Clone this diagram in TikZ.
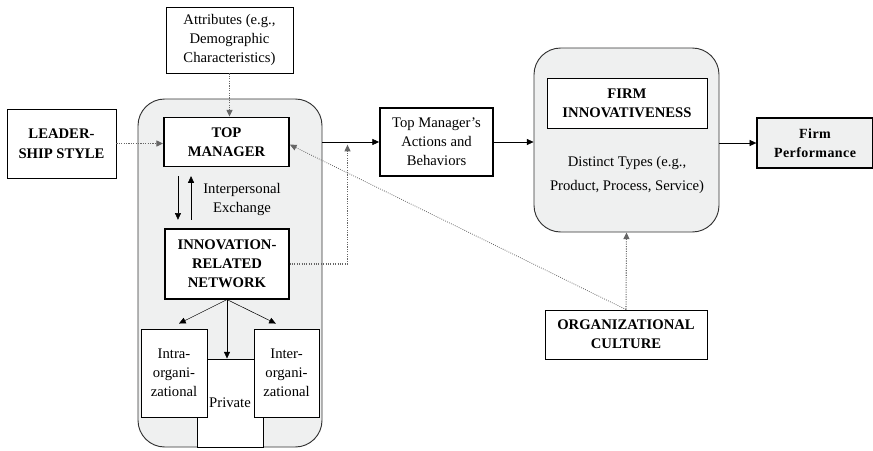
\documentclass[tikz,border=0pt]{standalone}
\usepackage{fontspec}
\setmainfont{Liberation Serif}
\usetikzlibrary{arrows.meta}
\definecolor{panel}{RGB}{239,240,240}
\tikzset{box/.style={draw,fill=white,align=center,inner sep=0pt,line width=0.7pt},
bbox/.style={box,line width=1.4pt},
grp/.style={draw=black!80,fill=panel,rounded corners=20pt,line width=0.7pt},
arr/.style={-{Triangle[length=5pt,width=4.5pt]}},
dots/.style={densely dotted,draw=black!60,line width=0.8pt}}

\begin{document}
\begin{tikzpicture}[x=0.75pt,y=-0.75pt,font=\fontsize{11}{14.25}\selectfont]
\useasboundingbox (0,0) rectangle (873,450);
\node[grp,minimum width=138pt,minimum height=261pt](g1) at (230,273){};
\node[grp,minimum width=138.75pt,minimum height=138pt](g2) at (626.5,140){};
\node[box,minimum width=95.25pt,minimum height=49.5pt](att) at (229.5,40){Attributes (e.g.,\\Demographic\\Characteristics)};
\node[box,font=\fontsize{11}{15}\selectfont\bfseries,minimum width=81.75pt,minimum height=51.75pt](lead) at (61.5,143.5){LEADER-\\SHIP STYLE};
\node[bbox,font=\fontsize{11}{14.25}\selectfont\bfseries,minimum width=93.75pt,minimum height=36.75pt](top) at (226.5,142){TOP\\MANAGER};
\node[align=center](ie) at (242,199){Interpersonal\\Exchange};
\node[box,line width=0.85pt,font=\fontsize{11}{14.25}\selectfont\bfseries,minimum width=93pt,minimum height=52.5pt](net) at (227,264){INNOVATION-\\RELATED\\NETWORK};
\node[box,minimum width=49.5pt,minimum height=66pt,text depth=-18pt](priv) at (230,403){Private};
\node[box,minimum width=49.5pt,minimum height=66pt](intra) at (174,373){Intra-\\organi-\\zational};
\node[box,minimum width=48.75pt,minimum height=66pt](inter) at (286.5,373){Inter-\\organi-\\zational};
\node[bbox,minimum width=84.75pt,minimum height=51pt](act) at (436.5,142){Top Manager’s\\Actions and\\Behaviors};
\node[box,font=\fontsize{11}{14.25}\selectfont\bfseries,minimum width=120pt,minimum height=37.5pt](fi) at (627,103){FIRM\\INNOVATIVENESS};
\node[align=center,font=\fontsize{11}{17.5}\selectfont](typ) at (627,175){Distinct Types (e.g.,\\Product, Process, Service)};
\node[bbox,fill=panel,font=\fontsize{10.5}{14.25}\selectfont\bfseries\addfontfeatures{LetterSpace=3},minimum width=86.6pt,minimum height=37.5pt](perf) at (815,143){Firm\\Performance};
\node[box,font=\fontsize{11}{14.25}\selectfont\bfseries,minimum width=121.5pt,minimum height=36.75pt](cult) at (626,334.5){ORGANIZATIONAL\\CULTURE};
\coordinate(j) at (347.5,142);
\draw[dots,arr](att.south)--(att.south|-top.north);
\draw[dots,arr](lead.east)--(lead.east-|top.west);
\draw[arr](g1.east|-act.west)--(act.west);
\draw[dots,arr](net.east)-|([yshift=-2pt]j);
\draw[arr](act.east)--(g2.west|-act.east);
\draw[arr](g2.east|-perf.west)--(perf.west);
\draw[dots,line width=0.6pt,arr](cult.north)--([yshift=-2pt]top.east);
\draw[dots,arr](cult.north)--(g2.south);
\draw[arr,shorten <=6.5pt,shorten >=6.5pt]([xshift=-36.4pt]top.south)--([xshift=-36.4pt]top.south|-net.north);
\draw[arr,shorten <=6.5pt,shorten >=6.5pt]([xshift=-26.6pt]top.south|-net.north)--([xshift=-26.6pt]top.south);
\draw[arr](net.south)--([xshift=3.75pt,yshift=3.75pt]intra.north);
\draw[arr](net.south)--([xshift=-8pt,yshift=3.75pt]inter.north);
\draw[arr](net.south)--(net.south|-priv.north);
\end{tikzpicture}
\end{document}
